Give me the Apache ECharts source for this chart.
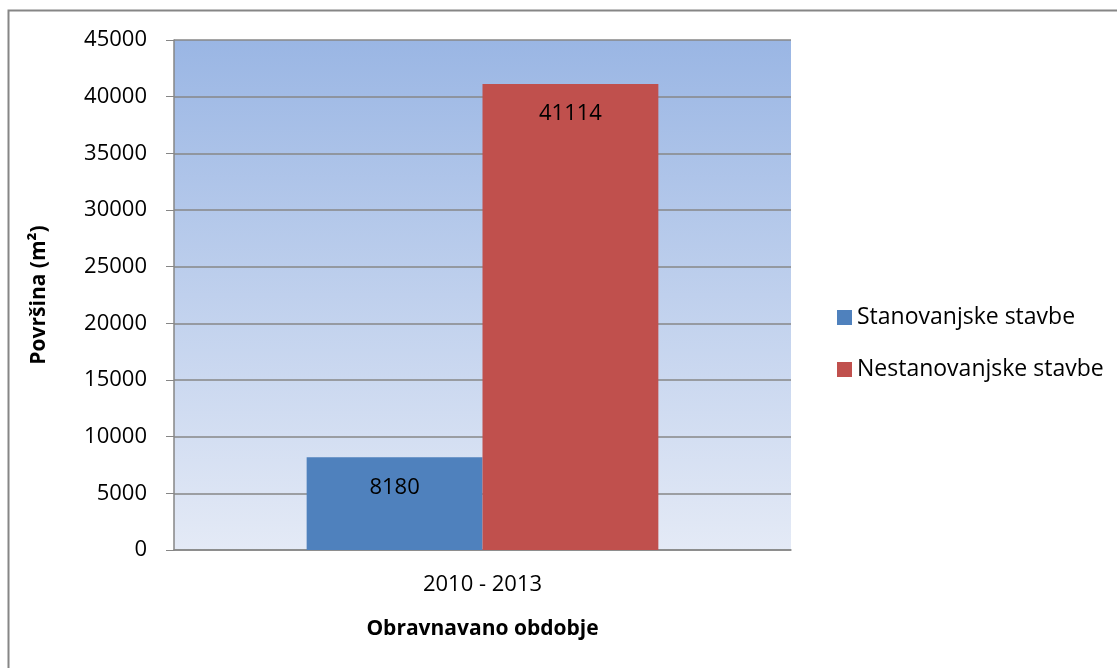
<!DOCTYPE html>
<html>
<head>
<meta charset="utf-8">
<script src="https://cdn.jsdelivr.net/npm/echarts@6/dist/echarts.min.js"></script>
<style>
html,body{margin:0;padding:0;background:#fff;}
#chart{width:1117px;height:668px;}
</style>
</head>
<body>
<div id="chart"></div>
<script>
// obdobje
var categories = ['2010 - 2013'];
// serije
var seriesNames = ['Stanovanjske stavbe', 'Nestanovanjske stavbe'];
var stanovanjske = [8180];
var nestanovanjske = [41114];
var seriesColors = ['#4f81bd', '#c0504d'];

var font = '"Open Sans", "Liberation Sans", sans-serif';
var myChart = echarts.init(document.getElementById('chart'));

var option = {
	animation: false,
	textStyle: { fontFamily: font },
	graphic: [{
		type: 'rect',
		shape: { x: 8.5, y: 10.5, width: 1200, height: 800 },
		style: { fill: 'none', stroke: '#868686', lineWidth: 2 },
		z: -10
	}],
	grid: {
		left: 174, right: 326, top: 40, bottom: 118,
		show: true,
		borderWidth: 0,
		backgroundColor: new echarts.graphic.LinearGradient(0, 0, 0, 1, [
			{ offset: 0, color: '#9ab6e4' },
			{ offset: 1, color: '#e4eaf6' }
		])
	},
	legend: {
		orient: 'vertical',
		left: 832, top: 301,
		itemWidth: 15, itemHeight: 15,
		itemGap: 29,
		icon: 'rect',
		textStyle: { fontSize: 23, color: '#000', fontFamily: font },
		data: seriesNames
	},
	xAxis: {
		type: 'category',
		data: categories,
		name: 'Obravnavano obdobje',
		nameLocation: 'middle',
		nameGap: 69,
		nameTextStyle: { fontSize: 21, fontWeight: 'bold', color: '#000' },
		axisLine: { lineStyle: { color: '#868686', width: 1.5 } },
		axisTick: { show: false },
		axisLabel: { fontSize: 22, color: '#000', margin: 24 }
	},
	yAxis: {
		type: 'value',
		min: 0, max: 45000, interval: 5000,
		name: 'Površina (m²)',
		nameLocation: 'middle',
		nameGap: 124,
		nameTextStyle: { fontSize: 21, fontWeight: 'bold', color: '#000' },
		axisLine: { show: true, lineStyle: { color: '#868686', width: 1.5 } },
		axisTick: { show: true, length: 8, lineStyle: { color: '#868686' } },
		axisLabel: { fontSize: 22, color: '#000', margin: 27, formatter: function (v) { return String(v); } },
		splitLine: { lineStyle: { color: '#878787', width: 1.5 } }
	},
	series: [{
		name: seriesNames[0],
		type: 'bar',
		data: stanovanjske,
		itemStyle: { color: seriesColors[0] },
		barGap: '0%',
		barCategoryGap: '43%',
		label: { show: true, position: 'insideTop', distance: 19, fontSize: 22, color: '#000' }
	}, {
		name: seriesNames[1],
		type: 'bar',
		data: nestanovanjske,
		itemStyle: { color: seriesColors[1] },
		label: { show: true, position: 'insideTop', distance: 19, fontSize: 22, color: '#000' }
	}]
};

myChart.setOption(option);
</script>
</body>
</html>
